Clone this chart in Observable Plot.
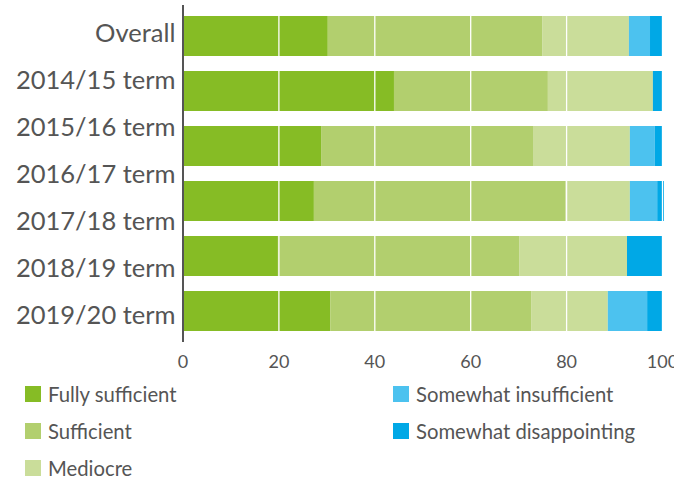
<!DOCTYPE html>
<html>
<head>
<meta charset="utf-8">
<script src="https://cdn.jsdelivr.net/npm/d3@7"></script>
<script src="https://cdn.jsdelivr.net/npm/@observablehq/plot@0.6"></script>
<style>
  html, body { margin: 0; padding: 0; background: #fff; }
  body { width: 674px; height: 479px; overflow: hidden; font-family: Lato, "Noto Sans", sans-serif; color: #555; }
  #wrap { position: relative; width: 674px; height: 372px; }
  #wrap svg { position: absolute; left: 0; top: 0; overflow: visible; }
  #legend { display: grid; grid-template-columns: 368px 280px; grid-template-rows: repeat(3, 37px); grid-auto-flow: column; padding-left: 25px; margin-top: 14px; }
  .item { display: flex; align-items: center; height: 16px; font-size: 20.3px; line-height: 16px; color: #555; }
  .sw { width: 16px; height: 16px; margin-right: 7px; flex: none; }
</style>
</head>
<body>
<div id="wrap"></div>
<div id="legend"></div>
<script>
const categories = ["Fully sufficient", "Sufficient", "Mediocre", "Somewhat insufficient", "Somewhat disappointing"];
const colors = ["#86bc25", "#b2cf6e", "#cadd9a", "#4cc2ef", "#00a8e6"];
const yLabels = ["Overall", "2014/15 term", "2015/16 term", "2016/17 term", "2017/18 term", "2018/19 term", "2019/20 term"];
const barRows = ["Overall", "2014/15 term", "2015/16 term", "2016/17 term", "2017/18 term", "2018/19 term"];
const fullySufficient = [30.3, 44.1, 28.9, 27.4, 19.9, 30.8];
const sufficient = [44.7, 32.1, 44.2, 52.4, 50.3, 41.9];
const mediocre = [18.1, 21.9, 20.2, 13.5, 22.5, 16.0];
const somewhatInsufficient = [4.4, 0, 5.2, 5.7, 0, 8.2];
const somewhatDisappointing = [2.5, 1.9, 1.5, 1.4, 7.3, 3.1];
const xTicks = [0, 20, 40, 60, 80, 100];
const gridTicks = [20, 40, 60, 80, 100];

const series = [fullySufficient, sufficient, mediocre, somewhatInsufficient, somewhatDisappointing];
const data = [];
barRows.forEach((row, i) => {
  categories.forEach((cat, j) => {
    data.push({row, category: cat, value: series[j][i]});
  });
});

const W = 674, H = 372, ML = 182.5, MR = 12, MT = 5, MB = 30;

const bars = Plot.plot({
  width: W, height: H,
  marginLeft: ML, marginRight: MR, marginTop: MT, marginBottom: MB,
  style: {fontFamily: "Lato, 'Noto Sans', sans-serif", color: "#555", background: "transparent", overflow: "visible"},
  x: {domain: [0, 100], ticks: xTicks, label: null},
  y: {domain: barRows, paddingInner: 0.268, paddingOuter: 0.143, axis: null, label: null},
  color: {domain: categories, range: colors},
  marks: [
    Plot.barX(data, Plot.stackX({x: "value", y: "row", fill: "category", order: categories})),
    Plot.ruleX(gridTicks, {stroke: "white", strokeWidth: 1.3}),
    Plot.ruleX([0], {stroke: "#555", strokeWidth: 2}),
    Plot.axisX({ticks: xTicks, tickSize: 0, tickPadding: 13, fontSize: 18, fill: "#555", label: null})
  ]
});

const labels = Plot.plot({
  width: W, height: H,
  marginLeft: ML, marginRight: MR, marginTop: MT, marginBottom: MB,
  style: {fontFamily: "Lato, 'Noto Sans', sans-serif", color: "#555", background: "transparent", overflow: "visible", pointerEvents: "none"},
  y: {type: "point", domain: yLabels, padding: 0.53, label: null},
  marks: [
    Plot.axisY({tickSize: 0, tickPadding: 7.5, fontSize: 25.5, fill: "#555", label: null})
  ]
});

const wrap = document.getElementById("wrap");
wrap.appendChild(bars);
wrap.appendChild(labels);

const legend = document.getElementById("legend");
categories.forEach((c, i) => {
  const it = document.createElement("div");
  it.className = "item";
  const sw = document.createElement("span");
  sw.className = "sw";
  sw.style.background = colors[i];
  const t = document.createElement("span");
  t.textContent = c;
  it.appendChild(sw);
  it.appendChild(t);
  legend.appendChild(it);
});
</script>
</body>
</html>
